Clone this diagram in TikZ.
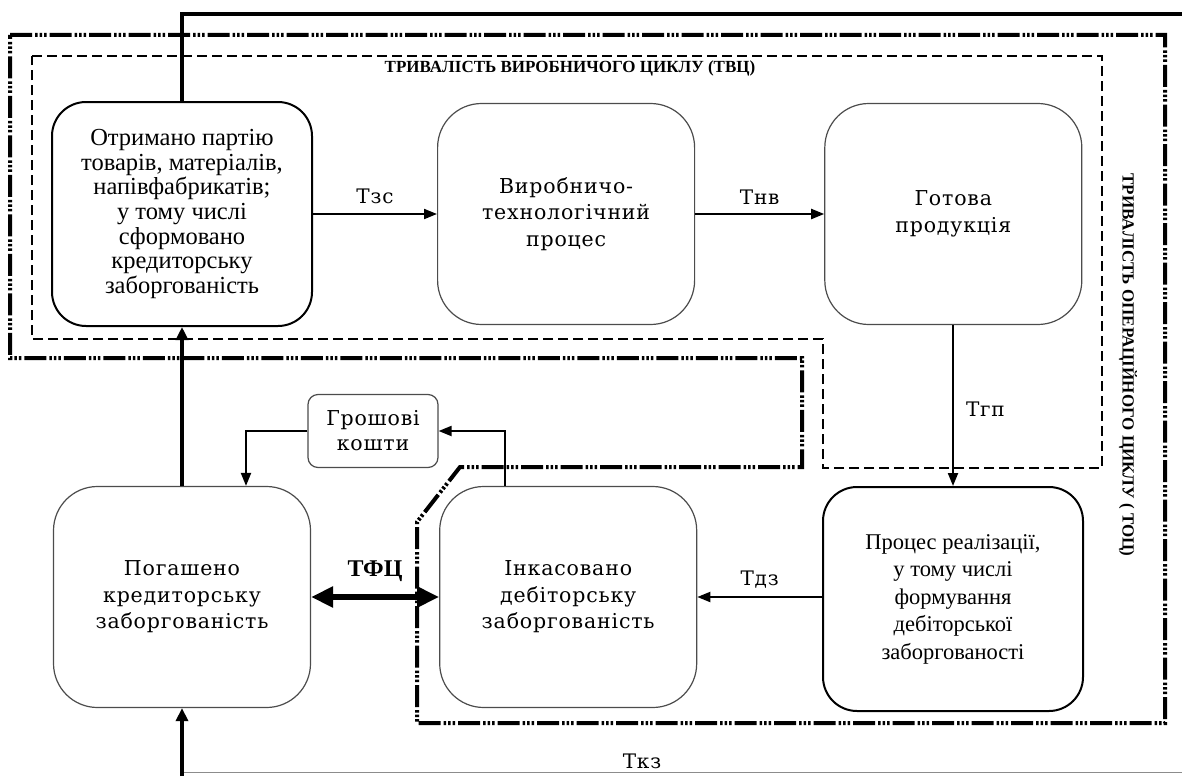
\documentclass[tikz,border=0pt]{standalone}
\usepackage{fontspec}
\setmainfont{Liberation Serif}
\newfontfamily\slabfont[LetterSpace=4]{DejaVu Serif}
\usetikzlibrary{arrows.meta,positioning}

\begin{document}
\begin{tikzpicture}[x=1pt,y=-1pt,
  every node/.style={align=center,inner sep=0pt},
  mainbox/.style={draw=black,line width=2pt,rounded corners=34pt,minimum width=260pt,minimum height=224pt},
  stagebox/.style={draw=black!70,line width=1.2pt,rounded corners=44pt,minimum width=257pt,minimum height=221pt,font=\slabfont\fontsize{20.5}{26.5}\selectfont},
  cashbox/.style={draw=black!70,line width=1.2pt,rounded corners=10pt,minimum width=130pt,minimum height=73pt,font=\slabfont\fontsize{20.5}{25}\selectfont},
  lbl/.style={font=\slabfont\fontsize{20}{22}\selectfont},
  cycletitle/.style={font=\fontsize{17}{19}\selectfont\bfseries},
  arr/.style={-{Triangle[length=13pt,width=10pt]},line width=2pt},
  thickarr/.style={-{Triangle[length=13pt,width=12pt]},line width=3.5pt},
  fcarr/.style={{Triangle[length=22pt,width=20pt]}-{Triangle[length=22pt,width=20pt]},line width=6pt},
  ocycle/.style={line width=4pt,dash pattern=on 22pt off 3pt on 2.5pt off 2pt on 2.5pt off 2pt on 2.5pt off 3pt},
  vcycle/.style={line width=2.5pt,dash pattern=on 10pt off 5pt}
]
\useasboundingbox (0,0) rectangle (1182,776);

% cycle frames
\draw[ocycle] (10,35) -- (1165,35) -- (1165,723) -- (417,723) -- (417,522) -- (460,467) -- (802,467) -- (802,358) -- (10,358) -- cycle;
\draw[vcycle] (32,56) -- (1102,56) -- (1102,468) -- (823,468) -- (823,339) -- (32,339) -- cycle;
\node[cycletitle] (tvc) at (570,68) {ТРИВАЛІСТЬ ВИРОБНИЧОГО ЦИКЛУ (ТВЦ)};
\node[cycletitle,rotate=-90] (toc) at (1128,365) {ТРИВАЛІСТЬ ОПЕРАЦІЙНОГО ЦИКЛУ ( ТОЦ)};

% stages
\node[mainbox,fill=white,font=\fontsize{24.5}{24.7}\selectfont] (otr) at (182,214) {Отримано партію\\товарів, матеріалів,\\напівфабрикатів;\\у тому числі\\сформовано\\кредиторську\\заборгованість};
\node[stagebox,right=124pt of otr,fill=white] (vyr) {Виробничо-\\технологічний\\процес};
\node[stagebox,right=129pt of vyr,fill=white] (got) {Готова\\продукція};
\node[stagebox,fill=white] (pog) at (182,597) {Погашено\\кредиторську\\заборгованість};
\node[stagebox,right=128pt of pog,fill=white] (ink) {Інкасовано\\дебіторську\\заборгованість};
\node[mainbox,fill=white,font=\fontsize{22.5}{27.5}\selectfont] (pro) at (953,599) {Процес реалізації,\\у тому числі\\формування\\дебіторської\\заборгованості};
\node[cashbox,fill=white] (gro) at (373,431) {Грошові\\кошти};
\coordinate (topend) at (1182,14);
\coordinate (botend) at (1182,772);
\coordinate (botstart) at (182,776);

% flows
\draw[arr] (otr) -- node[lbl,above=9pt]{Тзс} (vyr);
\draw[arr] (vyr) -- node[lbl,above=9pt]{Тнв} (got);
\draw[arr] (got.south -| pro.north) -- node[lbl,right=12pt,pos=0.52]{Тгп} (pro.north);
\draw[arr] (pro.west |- ink) -- node[lbl,above=8pt]{Тдз} (ink);
\draw[fcarr] (pog) -- node[font=\fontsize{24}{26}\selectfont\bfseries,above=12pt]{ТФЦ} (ink);
\draw[thickarr] (pog) -- (otr);
\draw[line width=3.5pt] (otr.north) |- (topend);
\draw[line width=1pt,draw=black!45] (botend) -- node[lbl,text=black,above=3pt,pos=0.54]{Ткз} (botstart |- botend);
\draw[thickarr] (botstart) -- (pog.south);
\draw[arr] ([xshift=-63pt]ink.north) |- (gro.east);
\draw[arr] (gro.west) -| ([xshift=64pt]pog.north);
\end{tikzpicture}
\end{document}
